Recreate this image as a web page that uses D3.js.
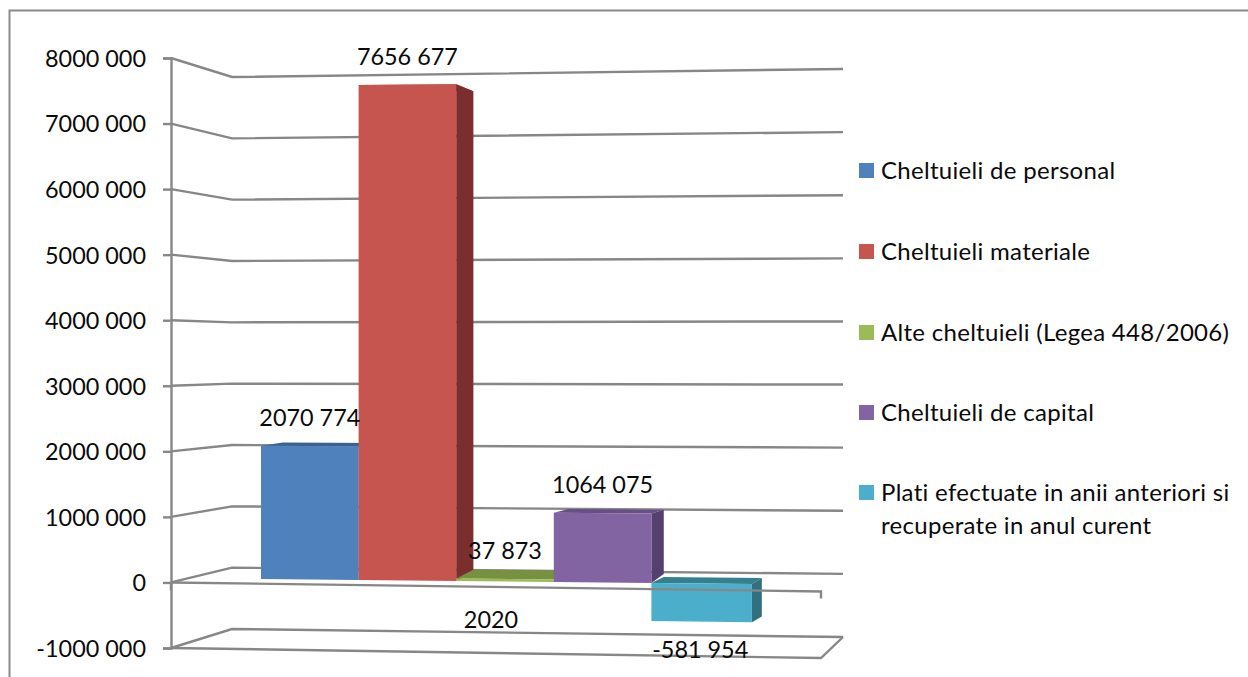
<!DOCTYPE html>
<html><head><meta charset="utf-8">
<script src="https://cdn.jsdelivr.net/npm/d3@7"></script>
<style>html,body{margin:0;background:#fff;overflow:hidden}text{font-family:Lato,"Noto Sans",sans-serif;fill:#0a0a0a}</style>
</head><body><svg id="c" width="1248" height="677"></svg>
<script>
const seriesNames=["Cheltuieli de personal","Cheltuieli materiale","Alte cheltuieli (Legea 448/2006)","Cheltuieli de capital","Plati efectuate in anii anteriori si recuperate in anul curent"];
const values=[2070774,7656677,37873,1064075,-581954];
const valueLabels=["2070 774","7656 677","37 873","1064 075","-581 954"];
const tickValues=[-1000000,0,1000000,2000000,3000000,4000000,5000000,6000000,7000000,8000000];
const categoryLabel="2020";
const frontColors=["#4F81BD","#C65550","#9BBB59","#8364A3","#4BAFCB"];
const sideColors=["#3A6191","#7A2F2E","#76923C","#543F6E","#31707F"];
const topColors=["#3A6191","#9A3F3C","#76913F","#654F85","#35808F"];
const legendLines=[["Cheltuieli de personal"],["Cheltuieli materiale"],["Alte cheltuieli (Legea 448/2006)"],["Cheltuieli de capital"],["Plati efectuate in anii anteriori si","recuperate in anul curent"]];
const legendY=[170,251,332,412,492];
const depthYTop=[0.7,1,1,0.55,0.65];
const depthYBottom=[1,1,1,1,0.55];
const widthScale=[1,1,1,1,1.03];

const svg=d3.select("#c");
const GRID="#878787";
const FS=23.4;
const SW=2.4;
svg.append("path").attr("d","M1248,10.5H9.5V677").attr("fill","none").attr("stroke","#8a8a8a").attr("stroke-width",2);

const dom=[-1000000,8000000];
const yFront=d3.scaleLinear().domain(dom).range([648,58]);
const yBack=d3.scaleLinear().domain(dom).range([629,77]);
const yRight=d3.scaleLinear().domain(dom).range([637,69]);
const xFront=171,xBack=232,xRight=843,xFrontRight=821;
const line=d3.line();
const gridG=svg.append("g");
tickValues.forEach(v=>{
  gridG.append("path").attr("d",line([[xFront,yFront(v)],[xBack,yBack(v)],[xRight,yRight(v)]]))
    .attr("fill","none").attr("stroke",GRID).attr("stroke-width",SW);
});
const fmt=v=>{const s=String(Math.abs(v));const t=v===0?"0":s.slice(0,-3)+" "+s.slice(-3);return (v<0?"-":"")+t;};
const axis=d3.axisLeft(yFront).tickValues(tickValues).tickFormat(fmt).tickSize(8).tickPadding(17);
const ag=svg.append("g").attr("transform",`translate(${xFront},0)`).call(axis);
ag.selectAll("line,path").attr("stroke",GRID).attr("stroke-width",SW);
ag.selectAll("text").attr("font-size",FS).attr("dy","0.36em").style("font-family","Lato");

const x=d3.scaleBand().domain(seriesNames).range([261,749]);
const barL=d3.scaleLinear().domain([0,1]).range([579,579-64.4]);
const barR=d3.scaleLinear().domain([0,1]).range([584,584-65.6]);
const xT=d3.scaleLinear().domain([261,751]).range([0,1]);
const yBar=(px,v)=>{const t=xT(px),u=v/1e6;return barL(u)*(1-t)+barR(u)*t;};
const back=(px,py,f)=>[px+0.0247*(1152-px),py+f*0.032*(301-py)];
const barG=svg.append("g");
seriesNames.forEach((n,i)=>{
  const x0=x(n),x1=x0+x.bandwidth()*widthScale[i],v=values[i];
  const hi=Math.max(v,0),lo=Math.min(v,0);
  const tl=[x0,yBar(x0,hi)],tr=[x1,yBar(x1,hi)],bl=[x0,yBar(x0,lo)],br=[x1,yBar(x1,lo)];
  const poly=(pts,c)=>barG.append("path").attr("d",line(pts)+"Z").attr("fill",c);
  const ft=depthYTop[i],fb=depthYBottom[i];
  poly([tl,tr,back(...tr,ft),back(...tl,ft)],topColors[i]);
  poly([tr,br,back(...br,fb),back(...tr,ft)],sideColors[i]);
  poly([tl,tr,br,bl],frontColors[i]);
});
svg.append("path").attr("d",line([[xFront,yFront(0)],[xFrontRight,yFront(0)+9],[xFrontRight,yFront(0)+16]])).attr("fill","none").attr("stroke",GRID).attr("stroke-width",SW);
svg.append("path").attr("d",line([[xFront,yFront(0)],[xFront,yFront(0)+8]])).attr("fill","none").attr("stroke",GRID).attr("stroke-width",SW);
svg.append("path").attr("d",line([[xFront,yFront(-1000000)],[xFrontRight,yFront(-1000000)+10],[xRight,yRight(-1000000)]])).attr("fill","none").attr("stroke",GRID).attr("stroke-width",SW);

const lg=svg.append("g").attr("font-size",FS).attr("text-anchor","middle");
seriesNames.forEach((n,i)=>{
  const c=x(n)+x.bandwidth()/2,v=values[i];
  const yy=v>=0?yBar(c,v)-28:yBar(c,v)+28;
  lg.append("text").attr("x",c).attr("y",yy).attr("dy","0.36em").text(valueLabels[i]);
});
lg.append("text").attr("x",491).attr("y",620).attr("dy","0.36em").text(categoryLabel);

const leg=svg.append("g");
seriesNames.forEach((n,i)=>{
  leg.append("rect").attr("x",859).attr("y",legendY[i]-7).attr("width",15).attr("height",15).attr("fill",frontColors[i]);
  legendLines[i].forEach((t,j)=>leg.append("text").attr("x",881).attr("y",legendY[i]+j*33).attr("dy","0.36em").attr("font-size",24).attr("letter-spacing",0.3).text(t));
});
</script></body></html>
